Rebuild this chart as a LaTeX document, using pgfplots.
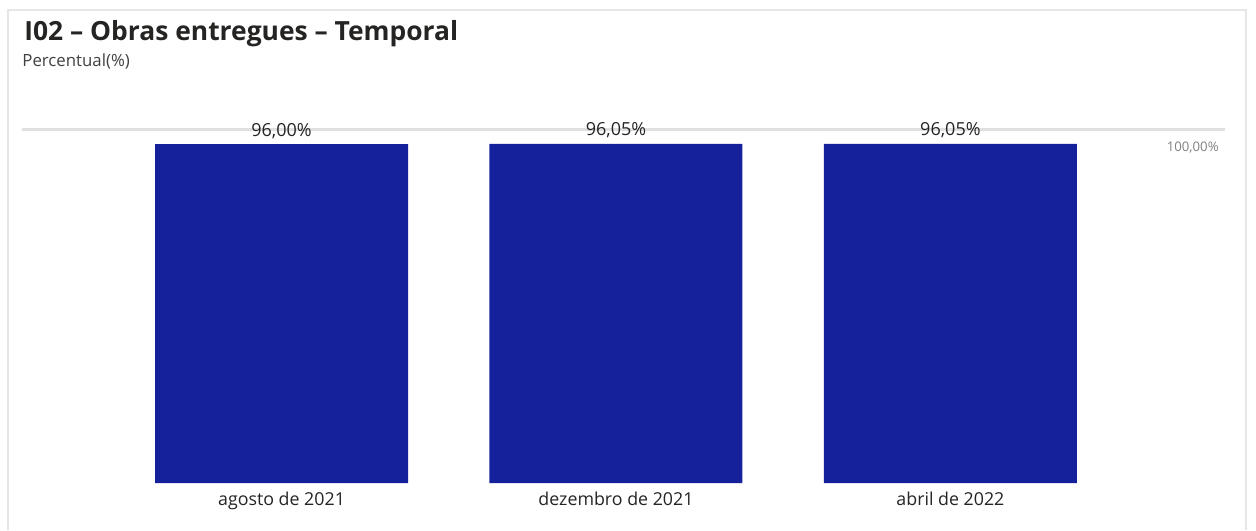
\documentclass[border=0pt]{standalone}
\usepackage{pgfplots}
\pgfplotsset{compat=1.18}
\usepackage{fontspec}
\setmainfont{Open Sans}
\definecolor{barblue}{RGB}{20,33,155}
\definecolor{titlec}{RGB}{37,36,35}
\definecolor{subc}{RGB}{64,64,64}
\definecolor{linegray}{RGB}{224,224,224}
\definecolor{framegray}{RGB}{230,230,230}
\begin{document}
\begin{tikzpicture}[x=0.5pt,y=0.5pt]
\path[use as bounding box] (0,0) rectangle (1256,530);
\draw[framegray, line width=1pt] (8,0) -- (8,520) -- (1246,520) -- (1246,0);
\node[anchor=base west, inner sep=0, text=titlec, font=\bfseries\fontsize{13.2}{15}\selectfont] at (24,489) {I02 – Obras entregues – Temporal};
\node[anchor=base west, inner sep=0, text=subc, font=\fontsize{8.4}{10}\selectfont] at (22,463) {Percentual(\%)};
\begin{axis}[
  at={(11pt,23.5pt)}, anchor=south west,
  scale only axis, width=601.5pt, height=176.5pt,
  xmin=-0.776, xmax=2.821, ymin=0, ymax=100,
  axis line style={draw=none},
  ytick=\empty,
  xtick={0,1,2},
  xticklabels={agosto de 2021, dezembro de 2021, abril de 2022},
  major tick length=0pt,
  xticklabel style={anchor=north, inner sep=0pt, yshift=-4.5pt, text=titlec, font=\fontsize{8.9}{11}\selectfont},
  ybar, bar width=126.5pt,
  clip=false,
  nodes near coords,
  point meta=explicit symbolic,
  every node near coord/.append style={anchor=base, inner sep=0pt, yshift=4pt, text=titlec, font=\fontsize{9}{10}\selectfont},
]
\draw[linegray, line width=1.5pt] (axis cs:-0.776,100) -- (axis cs:2.821,100);
\node[anchor=north east, inner sep=0pt, text=gray, font=\fontsize{6.6}{8}\selectfont] at (rel axis cs:1,1) [xshift=-3pt, yshift=-6pt] {100,00\%};
\addplot[fill=barblue, draw=none] coordinates {(0,96.00) [96,00\%] (1,96.05) [96,05\%] (2,96.05) [96,05\%]};
\end{axis}
\end{tikzpicture}
\end{document}
